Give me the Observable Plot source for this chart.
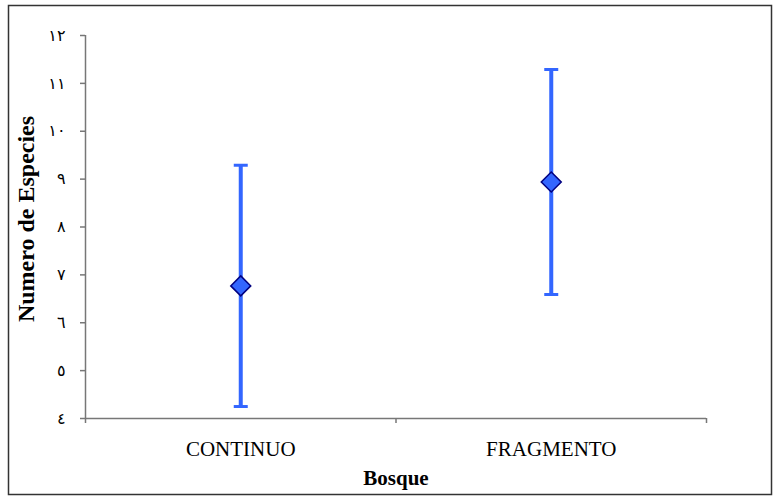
<!DOCTYPE html>
<html>
<head>
<meta charset="utf-8">
<script src="https://cdn.jsdelivr.net/npm/d3@7"></script>
<script src="https://cdn.jsdelivr.net/npm/@observablehq/plot@0.6"></script>
<style>
  html, body { margin: 0; padding: 0; background: white; }
</style>
</head>
<body>
<div id="chart"></div>
<script>
const categories = ["CONTINUO", "FRAGMENTO"];
const means = [6.77, 8.94];
const lows = [4.25, 6.59];
const highs = [9.29, 11.29];
const yTicks = [4, 5, 6, 7, 8, 9, 10, 11, 12];
const yTickLabels = ["٤", "٥", "٦", "٧", "٨", "٩", "١٠", "١١", "١٢"];
const xBoundaries = [0, 1, 2];

const data = categories.map((c, i) => ({cat: c, pos: i + 0.5, mean: means[i], lo: lows[i], hi: highs[i]}));

const capSymbol = {
  draw(context) {
    context.moveTo(-7, 0);
    context.lineTo(7, 0);
  }
};

const axisColor = "#777";
const blue = "#3366FF";

const chart = Plot.plot({
  width: 773,
  height: 496,
  marginLeft: 85,
  marginRight: 67,
  marginTop: 35,
  marginBottom: 78,
  x: {domain: [0, 2], axis: null},
  y: {domain: [4, 12], axis: null},
  style: {fontFamily: "'Liberation Serif', 'Times New Roman', serif", background: "white", color: "black"},
  marks: [
    Plot.frame({insetLeft: -77, insetTop: -30, insetRight: -65, insetBottom: -76, stroke: "#333", strokeWidth: 1.5}),
    Plot.ruleX([0], {y1: 4, y2: 12, stroke: axisColor, strokeWidth: 1.5}),
    Plot.ruleY([4], {x1: 0, x2: 2, stroke: axisColor, strokeWidth: 1.5}),
    Plot.axisY(yTicks, {
      tickSize: 5, tickPadding: 15, stroke: axisColor, strokeWidth: 1.5, fill: "black",
      tickFormat: d => yTickLabels[yTicks.indexOf(d)],
      fontSize: 16, fontFamily: "'DejaVu Sans', sans-serif", label: null
    }),
    Plot.axisX(xBoundaries, {tickSize: 5, stroke: axisColor, strokeWidth: 1.5, tickFormat: () => "", label: null}),
    Plot.ruleX(data, {x: "pos", y1: "lo", y2: "hi", stroke: blue, strokeWidth: 4}),
    Plot.dot(data, {x: "pos", y: "hi", symbol: capSymbol, stroke: blue, strokeWidth: 3}),
    Plot.dot(data, {x: "pos", y: "lo", symbol: capSymbol, stroke: blue, strokeWidth: 3}),
    Plot.dot(data, {x: "pos", y: "mean", symbol: "diamond2", r: 9, fill: blue, stroke: "#000080", strokeWidth: 1.5}),
    Plot.text(data, {x: "pos", text: "cat", frameAnchor: "bottom", dy: 31, fontSize: 21, lineAnchor: "middle", fill: "black"}),
    Plot.text(["Bosque"], {text: d => d, frameAnchor: "bottom", dy: 60, fontSize: 21, fontWeight: "bold", lineAnchor: "middle", fill: "black"}),
    Plot.text(["Numero de Especies"], {text: d => d, frameAnchor: "left", textAnchor: "middle", dx: -59, dy: -8, rotate: -90, fontSize: 24, fontWeight: "bold", lineAnchor: "middle", fill: "black"})
  ]
});

document.getElementById("chart").append(chart);
</script>
</body>
</html>
